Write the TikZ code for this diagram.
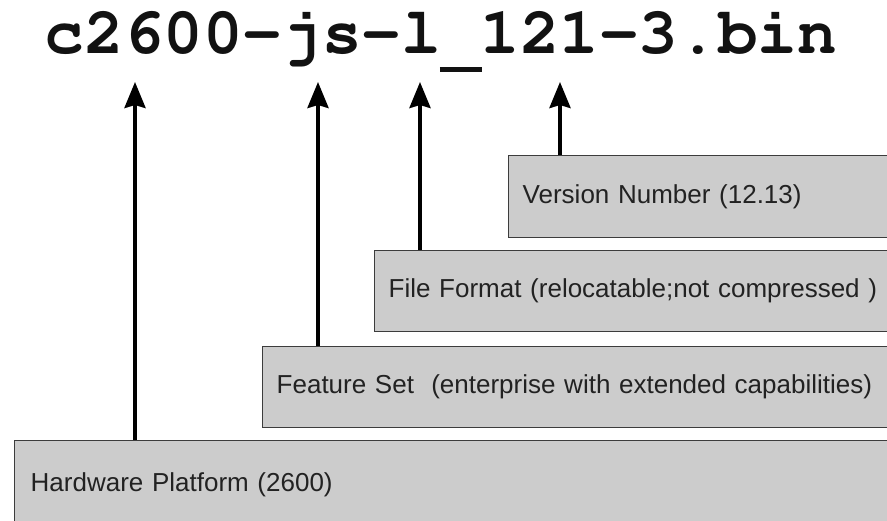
\documentclass[tikz,border=0pt]{standalone}
\usepackage{fontspec}
\setmainfont{Liberation Sans}
\usetikzlibrary{arrows.meta}
\definecolor{boxfill}{HTML}{CCCCCC}
\definecolor{boxline}{HTML}{3C3C3C}
\definecolor{txt}{HTML}{222222}
\newcommand\courb{\fontencoding{T1}\fontfamily{pcr}\fontseries{b}\fontshape{n}\fontsize{66}{70}\selectfont}
\newcommand\lowbar{\makebox[39.6pt][c]{\raisebox{-19pt}{\rule{42pt}{5pt}}}}
\tikzset{
  box/.style={draw=boxline, line width=1.4pt, fill=boxfill, anchor=north west,
    inner xsep=14pt, inner ysep=0pt, align=left, text=txt,
    font=\fontsize{26}{30}\selectfont},
  arr/.style={line width=3.8pt, draw=black,
    -{Stealth[length=26pt,width=21pt,inset=3pt]}}
}
\begin{document}
\begin{tikzpicture}[x=1pt,y=-1pt]
\useasboundingbox (0,0) rectangle (887,520);
\clip (0,0) rectangle (887,520);
\fill[white] (0,0) rectangle (887,520);
% title
\node[anchor=base, inner sep=0pt, font=\courb, text=black!93] (title) at (441,53) {c2600-js-l\lowbar 121-3.bin};
% boxes
\node[box, minimum width=442pt, minimum height=82pt, text width=414pt] (ver) at (508,155) {Version Number (12.13)};
\node[box, minimum width=576pt, minimum height=81pt, text width=548pt] (ff) at (374,250) {File Format (relocatable;not compressed )};
\node[box, minimum width=688pt, minimum height=81pt, text width=660pt, inner xsep=12pt] (fs) at (262,346) {Feature Set\ \ (enterprise with extended capabilities)};
\node[box, minimum width=936pt, minimum height=88pt, text width=904pt, inner xsep=16pt] (hw) at (14,440) {Hardware Platform (2600)};
% arrow tips
\coordinate (t1) at (135,82);
\coordinate (t2) at (318,82);
\coordinate (t3) at (420,82);
\coordinate (t4) at (560,82);
\draw[arr] (t1 |- hw.north) -- (t1);
\draw[arr] (t2 |- fs.north) -- (t2);
\draw[arr] (t3 |- ff.north) -- (t3);
\draw[arr] (t4 |- ver.north) -- (t4);
\end{tikzpicture}
\end{document}
